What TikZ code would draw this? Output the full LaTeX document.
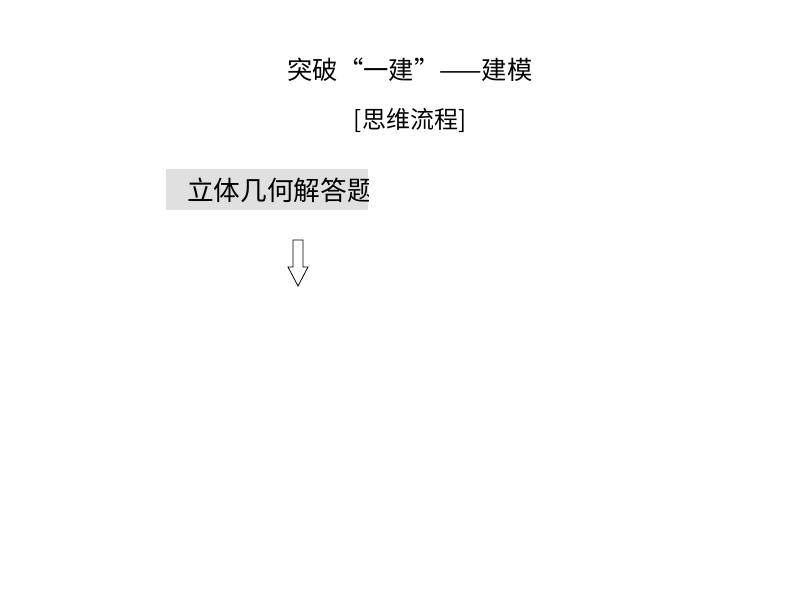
\documentclass[tikz,border=0pt]{standalone}
\usepackage{fontspec}
\setmainfont{Noto Sans CJK SC}
\definecolor{boxgray}{RGB}{224,224,224}
\begin{document}
\begin{tikzpicture}[x=0.75pt,y=-0.75pt]
\useasboundingbox (0,0) rectangle (794,596);
\node[inner sep=0, font=\fontsize{19}{21}\selectfont] (title) at (410,70) {突破“一建”——建模};
\node[inner sep=0, font=\fontsize{18}{20}\selectfont] (flow) at (410,120) {[思维流程]};
\fill[boxgray] (166,169) rectangle (368,210);
\begin{scope}
\clip (166,169) rectangle (368,210);
\node[inner sep=0, anchor=west, font=\fontsize{20}{22}\selectfont] (topic) at (187,190) {立体几何解答题};
\end{scope}
\draw[line width=0.6pt] (293,240) -- (303,240) -- (303,267) -- (308,267) -- (298,286) -- (288,267) -- (293,267) -- cycle;
\end{tikzpicture}
\end{document}
